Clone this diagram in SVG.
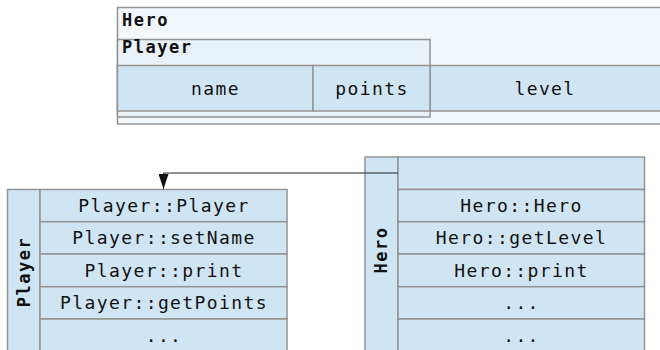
<svg xmlns="http://www.w3.org/2000/svg" width="660" height="350" viewBox="0 0 660 350">
  <defs>
    <style>
      .box { stroke: #939393; stroke-width: 1.5; }
      .outer { fill: #f2f7fc; }
      .inner { fill: #e9f1f9; }
      .cell { fill: #d0e5f3; }
      .t { font-family: "DejaVu Sans Mono", "Liberation Mono", monospace; font-size: 18px; letter-spacing: 1.4px; fill: #111; text-anchor: middle; }
      .b { font-family: "DejaVu Sans Mono", "Liberation Mono", monospace; font-size: 17px; font-weight: bold; letter-spacing: 1.5px; fill: #111; }
      .conn { fill: none; stroke: #222; stroke-width: 1; }
    </style>
    <marker id="arrow" viewBox="0 0 15 10" refX="15" refY="5" markerWidth="15" markerHeight="10" markerUnits="userSpaceOnUse" orient="auto">
      <path d="M0,0 L15,5 L0,10 Z" fill="#111"/>
    </marker>
  </defs>

  <!-- memory layout of a Hero object -->
  <g id="hero-object">
    <rect class="box outer" x="117.5" y="7.5" width="570" height="116.5"/>
    <text class="b" x="122" y="26">Hero</text>
    <rect class="box cell" x="430" y="65.5" width="260" height="45.5"/>
    <text class="t" x="545" y="94.5">level</text>
  </g>
  <g id="player-subobject">
    <rect class="box inner" x="117.5" y="39.5" width="312.5" height="77.5"/>
    <text class="b" x="122" y="52.5">Player</text>
    <rect class="box cell" x="117.5" y="65.5" width="195.5" height="45.5"/>
    <text class="t" x="215.5" y="94.5">name</text>
    <rect class="box cell" x="313" y="65.5" width="117" height="45.5"/>
    <text class="t" x="372" y="94.5">points</text>
  </g>

  <!-- Player method table -->
  <g id="player-table">
    <rect class="box cell" x="7.5" y="189.5" width="32.5" height="170"/>
    <text class="b" text-anchor="middle" transform="translate(30 272) rotate(-90)">Player</text>
    <rect class="box cell" x="40" y="189.5" width="247" height="32.2"/>
    <rect class="box cell" x="40" y="221.7" width="247" height="32.3"/>
    <rect class="box cell" x="40" y="254" width="247" height="32.7"/>
    <rect class="box cell" x="40" y="286.7" width="247" height="32.3"/>
    <rect class="box cell" x="40" y="319" width="247" height="40"/>
    <text class="t" x="164" y="211.5">Player::Player</text>
    <text class="t" x="164" y="244">Player::setName</text>
    <text class="t" x="164" y="276.5">Player::print</text>
    <text class="t" x="164" y="309">Player::getPoints</text>
    <text class="t" x="164" y="341.5">...</text>
  </g>

  <!-- Hero method table -->
  <g id="hero-table">
    <rect class="box cell" x="365" y="157" width="33" height="202"/>
    <text class="b" text-anchor="middle" transform="translate(387 250) rotate(-90)">Hero</text>
    <rect class="box cell" x="398" y="157" width="246.5" height="32.5"/>
    <rect class="box cell" x="398" y="189.5" width="246.5" height="32.2"/>
    <rect class="box cell" x="398" y="221.7" width="246.5" height="32.3"/>
    <rect class="box cell" x="398" y="254" width="246.5" height="32.7"/>
    <rect class="box cell" x="398" y="286.7" width="246.5" height="32.3"/>
    <rect class="box cell" x="398" y="319" width="246.5" height="40"/>
    <text class="t" x="521.5" y="211.5">Hero::Hero</text>
    <text class="t" x="521.5" y="244">Hero::getLevel</text>
    <text class="t" x="521.5" y="276.5">Hero::print</text>
    <text class="t" x="521.5" y="309">...</text>
    <text class="t" x="521.5" y="341.5">...</text>
  </g>

  <!-- base-class link -->
  <g id="connectors">
    <path class="conn" d="M398,173 H163.5 V189" marker-end="url(#arrow)"/>
  </g>
</svg>
